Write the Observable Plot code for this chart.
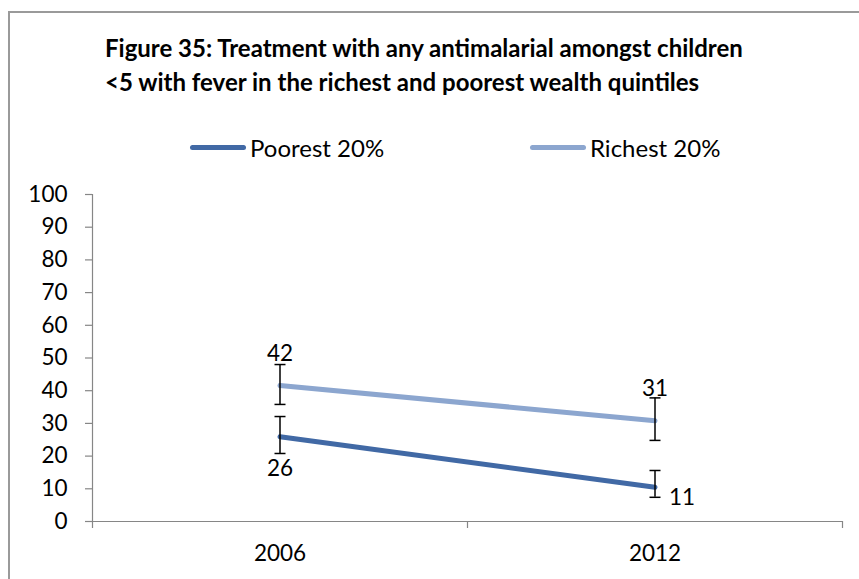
<!DOCTYPE html>
<html>
<head>
<meta charset="utf-8">
<script src="https://cdn.jsdelivr.net/npm/d3@7"></script>
<script src="https://cdn.jsdelivr.net/npm/@observablehq/plot@0.6"></script>
<style>
  html, body { margin: 0; padding: 0; background: #fff; }
  #page { position: relative; width: 859px; height: 579px; overflow: hidden; font-family: Lato, "Open Sans", sans-serif; color: #000; }
  #frame { position: absolute; left: 8px; top: 11px; width: 900px; height: 620px; border-left: 2px solid #9a9a9a; border-top: 2px solid #9a9a9a; box-sizing: border-box; }
  #title { position: absolute; left: 105px; top: 31px; font-weight: bold; font-size: 24px; line-height: 34px; white-space: nowrap; }
  .legend-item { position: absolute; top: 134px; height: 26px; display: flex; align-items: center; font-size: 24px; white-space: nowrap; }
  .swatch { display: inline-block; width: 56px; height: 5px; border-radius: 3px; margin-right: 4px; }
  #chart { position: absolute; left: 0; top: 170px; }
</style>
</head>
<body>
<div id="page">
  <div id="frame"></div>
  <div id="title"></div>
  <div id="legend"></div>
  <div id="chart"></div>
</div>
<script>
// ---- data ----
const titleLines = [
  "Figure 35: Treatment with any antimalarial amongst children",
  "<5 with fever in the richest and poorest wealth quintiles"
];
const years = ["2006", "2012"];
const seriesNames = ["Poorest 20%", "Richest 20%"];
const seriesColors = ["#4169a5", "#8ca6cf"];
const poorest = [25.9, 10.5];
const poorestLow = [20.8, 7.4];
const poorestHigh = [32.1, 15.6];
const richest = [41.6, 30.8];
const richestLow = [35.8, 24.8];
const richestHigh = [48.0, 37.8];
const poorestLabelPos = ["below", "right"];
const richestLabelPos = ["above", "above"];
const yTicks = [0, 10, 20, 30, 40, 50, 60, 70, 80, 90, 100];

// ---- header ----
document.getElementById("title").innerHTML = titleLines.map(t => t.replace(/</g, "&lt;")).join("<br>");
const legendX = [190, 530];
const legend = document.getElementById("legend");
seriesNames.forEach((name, i) => {
  const item = document.createElement("div");
  item.className = "legend-item";
  item.style.left = legendX[i] + "px";
  const sw = document.createElement("span");
  sw.className = "swatch";
  sw.style.background = seriesColors[i];
  item.appendChild(sw);
  item.appendChild(document.createTextNode(name));
  legend.appendChild(item);
});

// ---- table ----
const rows = [];
years.forEach((yr, i) => {
  rows.push({series: seriesNames[0], i: i + 0.5, year: yr, value: poorest[i], lo: poorestLow[i], hi: poorestHigh[i], pos: poorestLabelPos[i]});
  rows.push({series: seriesNames[1], i: i + 0.5, year: yr, value: richest[i], lo: richestLow[i], hi: richestHigh[i], pos: richestLabelPos[i]});
});

const capSymbol = {
  draw(context, size) {
    const r = Math.sqrt(size / Math.PI);
    context.moveTo(-r, 0);
    context.lineTo(r, 0);
  }
};

const gray = "#868686";
const plot = Plot.plot({
  width: 859,
  height: 409,
  marginTop: 24,
  marginBottom: 58,
  marginLeft: 92,
  marginRight: 17,
  style: {fontFamily: "Lato, 'Open Sans', sans-serif", fontSize: "22.5px", color: "#000", background: "transparent", overflow: "visible"},
  x: {domain: [0, years.length], axis: null},
  y: {domain: [0, 100], axis: null},
  color: {domain: seriesNames, range: seriesColors},
  marks: [
    Plot.axisY({ticks: yTicks, label: null, tickSize: 7, tickPadding: 18, stroke: gray, fill: "#000", strokeWidth: 1.2}),
    Plot.axisX({ticks: d3.range(years.length + 1), label: null, tickFormat: () => "", tickSize: 7, stroke: gray, strokeWidth: 1.2}),
    Plot.axisX({ticks: years.map((_, i) => i + 0.5), label: null, tickFormat: d => years[Math.floor(d)], tickSize: 0, tickPadding: 24, fill: "#000"}),
    Plot.ruleX([0], {stroke: gray, strokeWidth: 1.2}),
    Plot.ruleY([0], {stroke: gray, strokeWidth: 1.2}),
    Plot.line(rows, {x: "i", y: "value", stroke: "series", strokeWidth: 5, strokeLinecap: "round"}),
    Plot.ruleX(rows, {x: "i", y1: "lo", y2: "hi", stroke: "#000", strokeWidth: 1.5}),
    Plot.dot(rows, {x: "i", y: "lo", r: 5.5, symbol: capSymbol, stroke: "#000", strokeWidth: 1.5, fill: "none"}),
    Plot.dot(rows, {x: "i", y: "hi", r: 5.5, symbol: capSymbol, stroke: "#000", strokeWidth: 1.5, fill: "none"}),
    Plot.text(rows.filter(d => d.pos === "above"), {x: "i", y: "value", text: d => String(Math.round(d.value)), dy: -32, fill: "#000"}),
    Plot.text(rows.filter(d => d.pos === "below"), {x: "i", y: "value", text: d => String(Math.round(d.value)), dy: 32, fill: "#000"}),
    Plot.text(rows.filter(d => d.pos === "right"), {x: "i", y: "value", text: d => String(Math.round(d.value)), dx: 14, dy: 11, textAnchor: "start", fill: "#000"})
  ]
});
document.getElementById("chart").appendChild(plot);
</script>
</body>
</html>
